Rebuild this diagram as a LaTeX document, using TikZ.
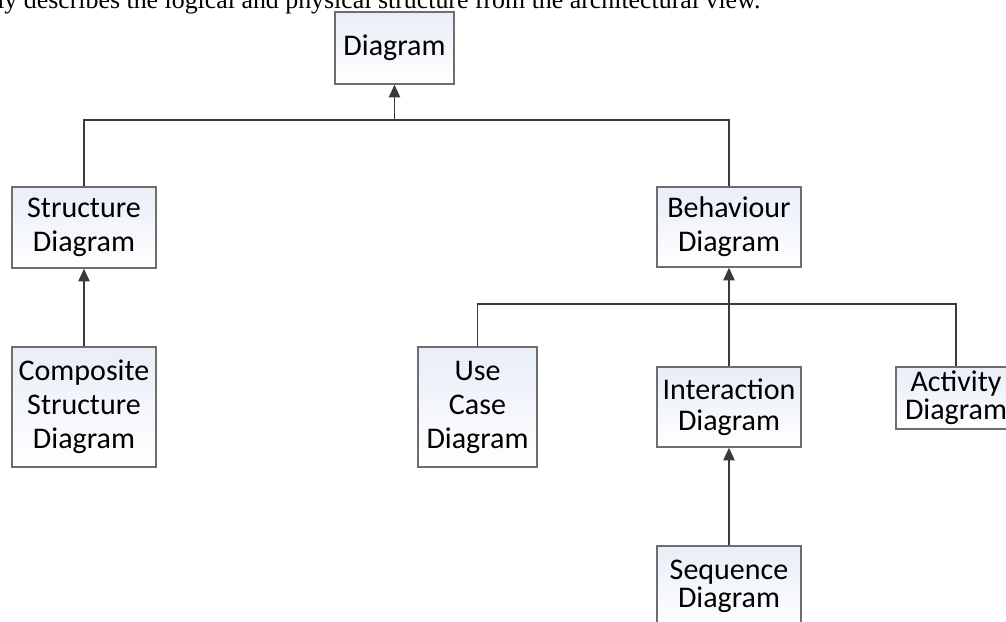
\documentclass[tikz,border=0pt]{standalone}
\usepackage{fontspec}
\setmainfont{Carlito}
\newfontfamily\bodyserif{Liberation Serif}
\usetikzlibrary{arrows.meta}
\definecolor{boxtop}{HTML}{E8EDF7}
\definecolor{boxline}{HTML}{6E6E6E}
\definecolor{wire}{HTML}{3A3A3A}
\begin{document}
\begin{tikzpicture}[x=0.75pt,y=-0.75pt,
  umlbox/.style={draw=boxline,line width=1.1pt,top color=boxtop,bottom color=white,
    inner sep=0pt,align=center,font=\fontsize{22.5pt}{25.5pt}\selectfont},
  wireline/.style={draw=wire,line width=1.1pt},
  inherit/.style={wireline,-{Triangle[length=9.5pt,width=8.5pt]}}]
\useasboundingbox (0,0) rectangle (1006,621);
% running text of the page above the figure
\node[anchor=base west,inner sep=0pt,font=\bodyserif\fontsize{19.4pt}{23pt}\selectfont] (caption) at (-3,8)
  {ly describes the logical and physical structure from the architectural view.};
% diagram boxes
\node[umlbox,minimum width=89.25pt,minimum height=54pt] (diag) at (394.5,48) {Diagram};
\node[umlbox,minimum width=108pt,minimum height=60.75pt] (struct) at (84,227.5) {Structure\\Diagram};
\node[umlbox,minimum width=108pt,minimum height=90pt] (comp) at (84,407) {Composite\\Structure\\Diagram};
\node[umlbox,minimum width=108pt,minimum height=60pt] (behav) at (729,227) {Behaviour\\Diagram};
\node[umlbox,minimum width=89.25pt,minimum height=90pt] (usecase) at (477.5,407) {Use\\Case\\Diagram};
\node[umlbox,minimum width=108pt,minimum height=60pt,font=\fontsize{22.5pt}{23.5pt}\selectfont] (inter) at (729,407) {Interaction\\Diagram};
\node[umlbox,minimum width=90pt,minimum height=46.5pt,font=\fontsize{22.5pt}{21pt}\selectfont] (activity) at (956,398) {Activity\\Diagram};
\node[umlbox,minimum width=108pt,minimum height=60pt,font=\fontsize{22.5pt}{21pt}\selectfont] (seq) at (729,586) {Sequence\\Diagram};
% junction points of the generalisation trees
\coordinate (j1) at (394.5,120);
\coordinate (j2) at (729,304);
% connectors
\draw[wireline] (struct.north) |- (j1) -| (behav.north);
\draw[inherit] (j1) -- (diag.south);
\draw[inherit] (comp.north) -- (struct.south);
\draw[wireline] (usecase.north) |- (j2) -| (activity.north);
\draw[inherit] (inter.north) -- (behav.south);
\draw[inherit] (seq.north) -- (inter.south);
\end{tikzpicture}
\end{document}
